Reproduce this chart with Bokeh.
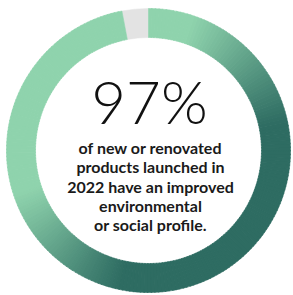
import math
from bokeh.plotting import figure
from bokeh.models import ColumnDataSource, Range1d
from bokeh.core.properties import value
from bokeh.embed import file_html
from bokeh.resources import INLINE

# ---- data ----
labels = ["Improved profile", "Other"]
shares = [97, 3]
headline = "97%"
caption_lines = [
    "of new or renovated",
    "products launched in",
    "2022 have an improved",
    "environmental",
    "or social profile.",
]

LIGHT = (143, 211, 173)
DARK = (46, 108, 98)
GRAY = "#e3e3e3"

W, H = 293, 295
cx, cy = 148, 145
r_out, r_in = 142, 113

p = figure(width=W, height=H, output_backend="svg", toolbar_location=None,
           x_range=Range1d(0, W), y_range=Range1d(0, H), min_border=0)
p.axis.visible = False
p.grid.visible = False
p.outline_line_color = None
p.background_fill_color = "white"
p.border_fill_color = "white"

total = sum(shares)
top = math.pi / 2
gray_span = 2 * math.pi * shares[1] / total
green_span = 2 * math.pi * shares[0] / total

p.annular_wedge(x=[cx], y=[cy], inner_radius=r_in, outer_radius=r_out,
                start_angle=[top], end_angle=[top + gray_span],
                fill_color=GRAY, line_color=GRAY, line_width=0.5)

n = 240
starts, ends, cols = [], [], []
g0 = top + gray_span
for i in range(n):
    a0 = g0 + green_span * i / n
    a1 = g0 + green_span * (i + 1) / n
    am = (a0 + a1) / 2
    t = (math.cos(am) - math.sin(am)) / math.sqrt(2)
    f = max(0.0, min(1.0, (t + 0.45) / 1.0))
    c = tuple(int(round(LIGHT[k] + (DARK[k] - LIGHT[k]) * f)) for k in range(3))
    starts.append(a0)
    ends.append(a1 + (0.004 if i < n - 1 else 0))
    cols.append("#%02x%02x%02x" % c)
src = ColumnDataSource(dict(x=[cx] * n, y=[cy] * n, s=starts, e=ends, c=cols))
p.annular_wedge(x="x", y="y", inner_radius=r_in, outer_radius=r_out,
                start_angle="s", end_angle="e", fill_color="c", line_color="c",
                line_width=0.6, source=src)

p.text(x=[149], y=[195], text=[headline], text_font=value("Lato Light"),
       text_font_size="60px", text_align="center", text_baseline="alphabetic",
       text_color="#111111")

ys = [148, 129, 109, 90, 71]
p.text(x=[150] * len(caption_lines), y=ys, text=caption_lines,
       text_font=value("Lato"), text_font_style="bold", text_font_size="16px",
       text_align="center", text_baseline="alphabetic", text_color="#1a1a1a")

open("out.html", "w").write(file_html(p, INLINE))
